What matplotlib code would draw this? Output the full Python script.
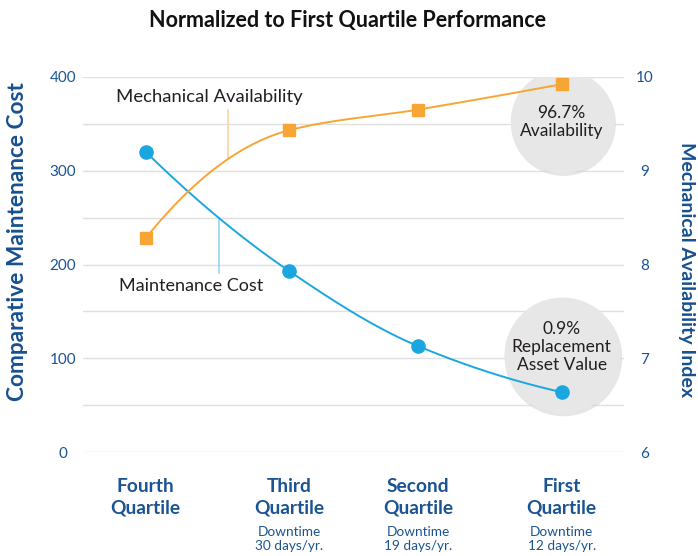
import numpy as np
import matplotlib.pyplot as plt

plt.rcParams['font.family'] = ['Lato', 'DejaVu Sans']

# data
quartiles = ["Fourth\nQuartile", "Third\nQuartile", "Second\nQuartile", "First\nQuartile"]
downtime = ["", "Downtime\n30 days/yr.", "Downtime\n19 days/yr.", "Downtime\n12 days/yr."]
xpos = [0, 1, 1.9, 2.9]
maint_cost = [320, 193, 113, 64]          # left axis
mech_avail = [8.28, 9.43, 9.65, 9.92]     # right axis

BLUE = '#1aa7e0'
ORANGE = '#f7a534'
TXT_BLUE = '#1b5493'


def smooth(x, y, n=80):
    # monotone cubic hermite through the points
    x = np.asarray(x, float)
    y = np.asarray(y, float)
    h = np.diff(x)
    s = np.diff(y) / h
    m = np.zeros_like(y)
    for i in range(1, len(x) - 1):
        if s[i - 1] * s[i] > 0:
            w1 = 2 * h[i] + h[i - 1]
            w2 = h[i] + 2 * h[i - 1]
            m[i] = (w1 + w2) / (w1 / s[i - 1] + w2 / s[i])
    m[0] = 2 * s[0] - m[1]
    m[-1] = 2 * s[-1] - m[-2]
    xs, ys = [], []
    t = np.linspace(0, 1, n)
    for i in range(len(x) - 1):
        h00 = 2 * t**3 - 3 * t**2 + 1
        h10 = t**3 - 2 * t**2 + t
        h01 = -2 * t**3 + 3 * t**2
        h11 = t**3 - t**2
        ys.append(h00 * y[i] + h10 * h[i] * m[i] + h01 * y[i + 1] + h11 * h[i] * m[i + 1])
        xs.append(x[i] + t * h[i])
    return np.concatenate(xs), np.concatenate(ys)


fig = plt.figure(figsize=(6.98, 5.56), dpi=100)
ax = fig.add_axes([83 / 698, (556 - 452.3) / 556, (624 - 83) / 698, (452.3 - 76.7) / 556])
ax2 = ax.twinx()

ax.set_xlim(-0.437, 3.334)
ax.set_ylim(0, 400)
ax2.set_ylim(6, 10)

for a in (ax, ax2):
    for sp in a.spines.values():
        sp.set_visible(False)
ax.set_xticks([])
ax.set_yticks([0, 100, 200, 300, 400])
ax.set_yticks([50, 150, 250, 350], minor=True)
ax.yaxis.grid(True, which='both', color='#e0e0e0', lw=1)
ax.set_axisbelow(True)
ax.tick_params(axis='y', which='both', length=0, pad=14.4, labelsize=11, labelcolor=TXT_BLUE)
for lab in ax.get_yticklabels():
    lab.set_horizontalalignment('center')
ax2.set_yticks([6, 7, 8, 9, 10])
ax2.tick_params(axis='y', length=0, pad=15, labelsize=11, labelcolor=TXT_BLUE)
for lab in ax2.get_yticklabels():
    lab.set_horizontalalignment('center')

# grey callout circles (with a faint shadow)
ax.scatter([xpos[3] + 0.012], [351.0], s=5700, color='#d6d6d6', alpha=0.6, lw=0, zorder=1)
ax.scatter([xpos[3] + 0.012], [101.8], s=7150, color='#d6d6d6', alpha=0.6, lw=0, zorder=1)
ax.scatter([xpos[3]], [352.8], s=5540, color='#e7e7e8', lw=0, zorder=1)
ax.scatter([xpos[3]], [103.6], s=6975, color='#e7e7e8', lw=0, zorder=1)
ax.text(xpos[3], 351.7, "96.7%\nAvailability", ha='center', va='center', fontsize=12.5,
        color='#231f20', linespacing=1.14, zorder=2)
ax.text(xpos[3], 111.8, "0.9%\nReplacement\nAsset Value", ha='center', va='center', fontsize=12.5,
        color='#231f20', linespacing=1.15, zorder=2)

# curves
bx, by = smooth(xpos, maint_cost)
ox, oy = smooth(xpos, mech_avail)
ax.plot(bx, by, color=BLUE, lw=1.4, zorder=3)
ax.plot(xpos, maint_cost, 'o', color=BLUE, ms=9.5, zorder=4)
ax2.plot(ox, oy, color=ORANGE, lw=1.4, zorder=3)
ax2.plot(xpos, mech_avail, 's', color=ORANGE, ms=9, zorder=4)

# leader lines + series labels
lx_o = 0.572
ax2.plot([lx_o, lx_o], [np.interp(lx_o, ox, oy), 9.645], color='#fbd09a', lw=1.1, zorder=2)
lx_b = 0.513
ax.plot([lx_b, lx_b], [np.interp(lx_b, bx, by), 191], color='#90d2ef', lw=1.1, zorder=2)
ax.text(-0.209, 378, "Mechanical Availability", ha='left', va='center', fontsize=13.3, color='#231f20')
ax.text(-0.184, 177, "Maintenance Cost", ha='left', va='center', fontsize=13, color='#231f20')

# category labels under the plot
tr = ax.get_xaxis_transform()
for x, q, d in zip(xpos, quartiles, downtime):
    l1, l2 = q.split("\n")
    ax.text(x, -0.1049, l1, transform=tr, ha='center', va='baseline', fontsize=13.8,
            fontweight='bold', color=TXT_BLUE)
    ax.text(x, -0.1629, l2, transform=tr, ha='center', va='baseline', fontsize=13.8,
            fontweight='bold', color=TXT_BLUE)
    if d:
        d1, d2 = d.split("\n")
        ax.text(x, -0.2228, d1, transform=tr, ha='center', va='baseline', fontsize=9.8, color=TXT_BLUE)
        ax.text(x, -0.2593, d2, transform=tr, ha='center', va='baseline', fontsize=9.8, color=TXT_BLUE)

fig.text(18 / 698, 1 - 241.7 / 556, "Comparative Maintenance Cost", rotation=90, ha='center', va='center',
         fontsize=16.3, fontweight='bold', color='#17508f')
fig.text(687 / 698, 1 - 270 / 556, "Mechanical Availability Index", rotation=270, ha='center', va='center',
         fontsize=14, fontweight='bold', color='#17508f')
fig.text(347.5 / 698, 1 - 21 / 556, "Normalized to First Quartile Performance", ha='center', va='center',
         fontsize=15.5, fontweight='bold', color='#111111')

fig.savefig('out.png', dpi=100)
